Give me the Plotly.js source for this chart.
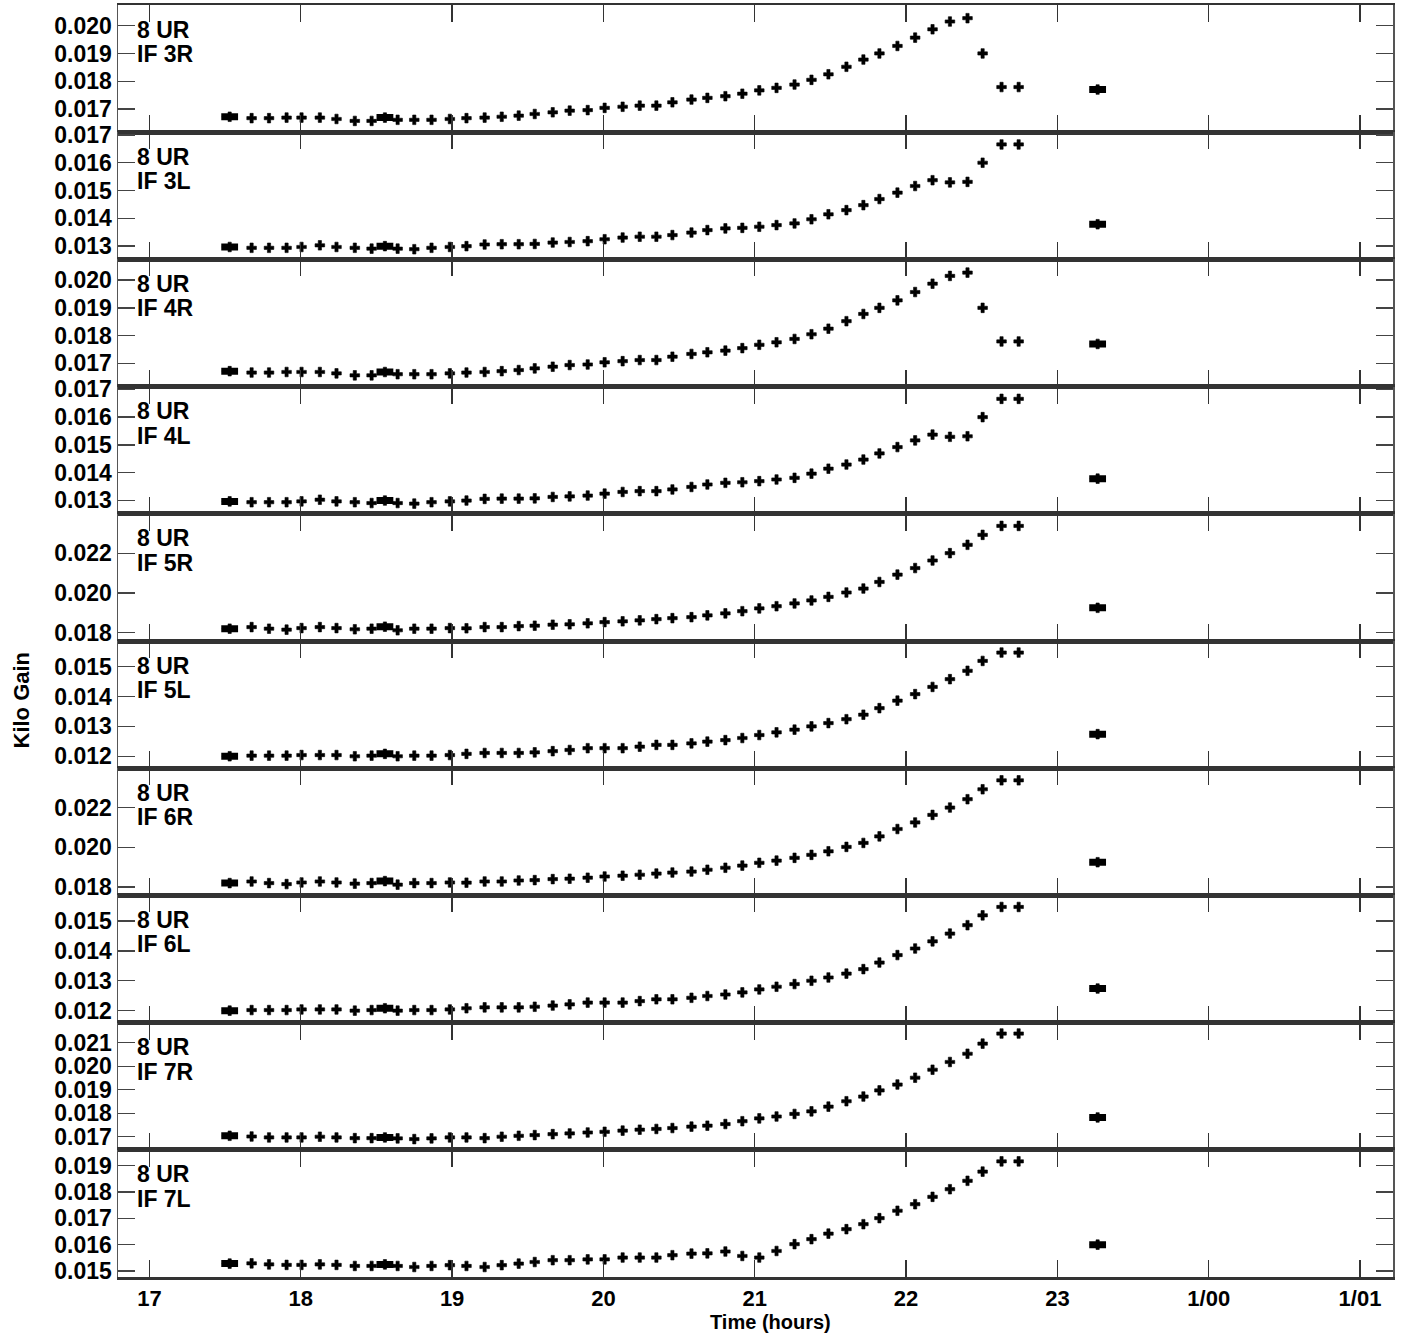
<!DOCTYPE html>
<html>
<head>
<meta charset="utf-8">
<script src="https://cdn.plot.ly/plotly-3.0.1.min.js"></script>
<style>html,body{margin:0;padding:0;background:#fff;}#plot{width:1403px;height:1334px;}</style>
</head>
<body>
<div id="plot"></div>
<script>
// ---- data ----
const TIME = [17.53,17.675,17.79,17.906,18.005,18.126,18.236,18.357,18.468,18.556,18.64,18.75,18.864,18.985,19.095,19.215,19.328,19.44,19.546,19.665,19.777,19.896,20.008,20.127,20.24,20.35,20.456,20.582,20.687,20.806,20.918,21.03,21.144,21.263,21.375,21.487,21.606,21.718,21.824,21.943,22.06,22.175,22.29,22.406,22.506,22.631,22.744,23.266];
const BLOCK_IDX = [0, 9, 47];

const IF3R = [0.01672,0.01667,0.01667,0.01669,0.01669,0.01669,0.01664,0.01657,0.01657,0.01669,0.01661,0.01661,0.01661,0.01664,0.01667,0.01669,0.01672,0.01676,0.01682,0.01688,0.01694,0.01696,0.01704,0.01708,0.01712,0.01712,0.01724,0.01734,0.01740,0.01746,0.01755,0.01767,0.01776,0.01788,0.01805,0.01825,0.01852,0.01878,0.01900,0.01927,0.01957,0.01987,0.02015,0.02027,0.01900,0.01779,0.01779,0.01770];
const IF3L = [0.01296,0.01293,0.01293,0.01293,0.01296,0.01302,0.01296,0.01293,0.01290,0.01299,0.01290,0.01288,0.01293,0.01296,0.01299,0.01305,0.01306,0.01306,0.01307,0.01312,0.01314,0.01317,0.01324,0.01330,0.01333,0.01333,0.01339,0.01348,0.01357,0.01363,0.01365,0.01369,0.01375,0.01381,0.01396,0.01414,0.01429,0.01447,0.01469,0.01492,0.01516,0.01537,0.01529,0.01531,0.01600,0.01666,0.01666,0.01378];
const IF4R = [0.01672,0.01667,0.01667,0.01669,0.01669,0.01669,0.01664,0.01657,0.01657,0.01669,0.01661,0.01661,0.01661,0.01664,0.01667,0.01669,0.01672,0.01676,0.01682,0.01688,0.01694,0.01696,0.01704,0.01708,0.01712,0.01712,0.01724,0.01734,0.01740,0.01746,0.01755,0.01767,0.01776,0.01788,0.01805,0.01825,0.01852,0.01878,0.01900,0.01927,0.01957,0.01987,0.02015,0.02027,0.01900,0.01779,0.01779,0.01770];
const IF4L = [0.01296,0.01293,0.01293,0.01293,0.01296,0.01302,0.01296,0.01293,0.01290,0.01299,0.01290,0.01288,0.01293,0.01296,0.01299,0.01305,0.01306,0.01306,0.01307,0.01312,0.01314,0.01317,0.01324,0.01330,0.01333,0.01333,0.01339,0.01348,0.01357,0.01363,0.01365,0.01369,0.01375,0.01381,0.01396,0.01414,0.01429,0.01447,0.01469,0.01492,0.01516,0.01537,0.01529,0.01531,0.01600,0.01666,0.01666,0.01378];
const IF5R = [0.01820,0.01828,0.01820,0.01815,0.01823,0.01828,0.01823,0.01817,0.01820,0.01830,0.01812,0.01820,0.01820,0.01823,0.01822,0.01828,0.01828,0.01833,0.01835,0.01840,0.01842,0.01847,0.01853,0.01857,0.01862,0.01868,0.01873,0.01878,0.01887,0.01897,0.01908,0.01922,0.01933,0.01947,0.01962,0.01980,0.02002,0.02022,0.02055,0.02092,0.02125,0.02163,0.02200,0.02242,0.02292,0.02337,0.02337,0.01925];
const IF5L = [0.01200,0.01202,0.01202,0.01202,0.01204,0.01204,0.01204,0.01200,0.01202,0.01208,0.01200,0.01202,0.01202,0.01204,0.01208,0.01211,0.01211,0.01211,0.01213,0.01217,0.01221,0.01227,0.01227,0.01227,0.01232,0.01238,0.01238,0.01243,0.01249,0.01254,0.01261,0.01271,0.01280,0.01289,0.01300,0.01311,0.01324,0.01339,0.01361,0.01386,0.01408,0.01432,0.01458,0.01486,0.01519,0.01547,0.01547,0.01274];
const IF6R = [0.01820,0.01828,0.01820,0.01815,0.01823,0.01828,0.01823,0.01817,0.01820,0.01830,0.01812,0.01820,0.01820,0.01823,0.01822,0.01828,0.01828,0.01833,0.01835,0.01840,0.01842,0.01847,0.01853,0.01857,0.01862,0.01868,0.01873,0.01878,0.01887,0.01897,0.01908,0.01922,0.01933,0.01947,0.01962,0.01980,0.02002,0.02022,0.02055,0.02092,0.02125,0.02163,0.02200,0.02242,0.02292,0.02337,0.02337,0.01925];
const IF6L = [0.01200,0.01202,0.01202,0.01202,0.01204,0.01204,0.01204,0.01200,0.01202,0.01208,0.01200,0.01202,0.01202,0.01204,0.01208,0.01211,0.01211,0.01211,0.01213,0.01217,0.01221,0.01227,0.01227,0.01227,0.01232,0.01238,0.01238,0.01243,0.01249,0.01254,0.01261,0.01271,0.01280,0.01289,0.01300,0.01311,0.01324,0.01339,0.01361,0.01386,0.01408,0.01432,0.01458,0.01486,0.01519,0.01547,0.01547,0.01274];
const IF7R = [0.01704,0.01701,0.01697,0.01697,0.01697,0.01700,0.01697,0.01694,0.01694,0.01697,0.01693,0.01690,0.01693,0.01697,0.01697,0.01694,0.01700,0.01704,0.01707,0.01711,0.01714,0.01718,0.01721,0.01726,0.01730,0.01733,0.01737,0.01743,0.01747,0.01754,0.01766,0.01778,0.01786,0.01797,0.01808,0.01828,0.01851,0.01871,0.01897,0.01922,0.01951,0.01985,0.02018,0.02053,0.02096,0.02139,0.02139,0.01782];
const IF7L = [0.01528,0.01529,0.01525,0.01523,0.01523,0.01525,0.01523,0.01519,0.01519,0.01525,0.01519,0.01515,0.01519,0.01522,0.01519,0.01515,0.01522,0.01528,0.01534,0.01541,0.01541,0.01544,0.01544,0.01551,0.01551,0.01551,0.01560,0.01566,0.01567,0.01574,0.01557,0.01551,0.01576,0.01602,0.01621,0.01642,0.01659,0.01678,0.01701,0.01729,0.01754,0.01782,0.01811,0.01843,0.01878,0.01917,0.01917,0.01600];

const PANEL_NAMES = ["IF 3R","IF 3L","IF 4R","IF 4L","IF 5R","IF 5L","IF 6R","IF 6L","IF 7R","IF 7L"];
const ANTENNA = "8 UR";
const SERIES = [IF3R, IF3L, IF4R, IF4L, IF5R, IF5L, IF6R, IF6L, IF7R, IF7L];
const Y_RANGES = [[0.016164,0.020745],[0.012512,0.017102],[0.016164,0.020745],[0.012512,0.017102],
                  [0.01758,0.02398],[0.0116,0.015857],[0.01758,0.02398],[0.0116,0.015857],
                  [0.016444,0.021855],[0.01477,0.01961]];
const Y_DTICK = [0.001,0.001,0.001,0.001,0.002,0.001,0.002,0.001,0.001,0.001];
const X_TICKVALS = [17,18,19,20,21,22,23,24,25];
const X_TICKTEXT = ["17","18","19","20","21","22","23","1/00","1/01"];
const X_RANGE = [16.792, 25.218];

// ---- build ----
const FONT = {family: "Liberation Sans, Arial, sans-serif", size: 23, color: "#000", weight: 700};
const XFONT = {family: FONT.family, size: 22, color: "#000", weight: 700};
const N = SERIES.length;
const traces = [];
const layout = {
  width: 1403, height: 1334,
  margin: {l: 118, r: 10, t: 5, b: 57},
  paper_bgcolor: "#fff", plot_bgcolor: "#fff",
  showlegend: false,
  font: FONT,
  annotations: []
};

for (let i = 0; i < N; i++) {
  const s = i === 0 ? "" : String(i + 1);
  const xa = "x" + s, ya = "y" + s;
  traces.push({
    type: "scatter", mode: "markers", x: TIME, y: SERIES[i], xaxis: xa, yaxis: ya,
    marker: {symbol: "cross", size: 8, color: "#000", line: {color: "#000", width: 0.6}},
    hoverinfo: "x+y"
  });
  traces.push({
    type: "scatter", mode: "markers",
    x: BLOCK_IDX.map(k => TIME[k]), y: BLOCK_IDX.map(k => SERIES[i][k]),
    xaxis: xa, yaxis: ya,
    marker: {symbol: "line-ew", size: 12, color: "#000", line: {color: "#000", width: 7}},
    error_x: {type: "constant", value: 0.052, thickness: 1.2, width: 0, color: "#000"},
    hoverinfo: "skip"
  });
  const top = 1 - i / N, bot = 1 - (i + 1) / N;
  layout["xaxis" + s] = {
    anchor: ya, range: X_RANGE, matches: i === 0 ? undefined : "x",
    tickvals: X_TICKVALS, ticktext: X_TICKTEXT,
    ticks: "inside", ticklen: 17, tickwidth: 1.3, tickcolor: "#333",
    showline: true, linecolor: "#333", linewidth: 2.5, mirror: "ticks",
    showgrid: false, zeroline: false,
    showticklabels: i === N - 1,
    tickfont: XFONT
  };
  layout["yaxis" + s] = {
    anchor: xa, domain: [bot, top], range: Y_RANGES[i],
    tick0: 0, dtick: Y_DTICK[i], tickformat: ".3f",
    ticks: "inside", ticklen: 17, tickwidth: 1.3, tickcolor: "#444",
    showline: true, linecolor: "#555", linewidth: 1.5, mirror: "ticks",
    showgrid: false, zeroline: false,
    tickfont: FONT
  };
  layout.annotations.push({
    text: ANTENNA, xref: xa + " domain", yref: ya + " domain",
    x: 0.013, y: 1 - 24.5 / 127.2, xanchor: "left", yanchor: "middle",
    showarrow: false, font: FONT
  });
  layout.annotations.push({
    text: PANEL_NAMES[i], xref: xa + " domain", yref: ya + " domain",
    x: 0.013, y: 1 - 49 / 127.2, xanchor: "left", yanchor: "middle",
    showarrow: false, font: FONT
  });
}

layout.annotations.push({
  text: "Kilo Gain", xref: "paper", yref: "paper", x: -0.0753, y: 0.454,
  xanchor: "center", yanchor: "middle", textangle: -90, showarrow: false,
  font: {family: FONT.family, size: 22, color: "#000", weight: 700}
});
layout.annotations.push({
  text: "Time (hours)", xref: "paper", yref: "paper", x: 0.512, y: -0.0448,
  xanchor: "center", yanchor: "bottom", showarrow: false, borderpad: 0,
  font: {family: FONT.family, size: 20, color: "#000", weight: 700}
});

Plotly.newPlot("plot", traces, layout, {staticPlot: true, displayModeBar: false});
</script>
</body>
</html>
